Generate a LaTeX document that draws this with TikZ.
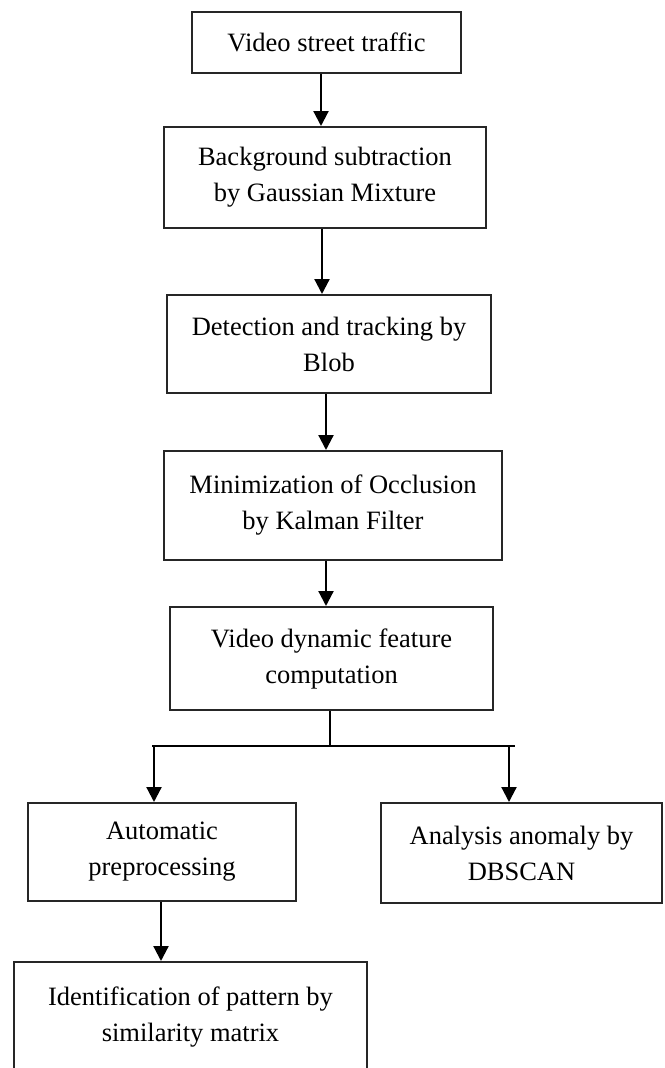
\documentclass[tikz,border=0pt]{standalone}
\usepackage{fontspec}
\setmainfont{Liberation Serif}
\usetikzlibrary{arrows.meta}
\begin{document}
\begin{tikzpicture}[x=1pt,y=-1pt,
  box/.style={draw=black!85, line width=2pt, align=center, inner sep=0pt,
    font=\fontsize{26.5}{36}\selectfont},
  arr/.style={line width=2.2pt, -{Triangle[length=15pt,width=15pt]}},
  ln/.style={line width=2pt}]
\useasboundingbox[fill=white] (0,0) rectangle (664,1068);
\node[box, minimum width=269pt, minimum height=61pt] (b1) at (326.5,42.5) {Video street traffic};
\node[box, minimum width=322pt, minimum height=101pt] (b2) at (325,177.5) {Background subtraction\\by Gaussian Mixture};
\node[box, minimum width=324pt, minimum height=98pt] (b3) at (329,344) {Detection and tracking by\\Blob};
\node[box, minimum width=338pt, minimum height=109pt] (b4) at (333,505.5) {Minimization of Occlusion\\by Kalman Filter};
\node[box, minimum width=323pt, minimum height=103pt] (b5) at (331.5,658.5) {Video dynamic feature\\computation};
\node[box, minimum width=268pt, minimum height=98pt] (b6) at (162,852) {Automatic\\preprocessing};
\node[box, minimum width=281pt, minimum height=100pt] (b7) at (521.5,853) {Analysis anomaly by\\DBSCAN};
\node[box, minimum width=353pt, minimum height=110pt] (b8) at (190.5,1017) {Identification of pattern by\\similarity matrix};
\coordinate (c1) at (321,0);
\coordinate (c2) at (322,0);
\coordinate (c3) at (326,0);
\coordinate (c5) at (330,746);
\coordinate (jl) at (152,746);
\coordinate (jr) at (515,746);
\coordinate (al) at (154,746);
\coordinate (ar) at (509,746);
\coordinate (c6) at (161,0);
\draw[arr] (b1.south -| c1) -- (b2.north -| c1);
\draw[arr] (b2.south -| c2) -- (b3.north -| c2);
\draw[arr] (b3.south -| c3) -- (b4.north -| c3);
\draw[arr] (b4.south -| c3) -- (b5.north -| c3);
\draw[ln] (b5.south -| c5) -- (c5);
\draw[ln] (jl) -- (jr);
\draw[arr] (al) -- (b6.north -| al);
\draw[arr] (ar) -- (b7.north -| ar);
\draw[arr] (b6.south -| c6) -- (b8.north -| c6);
\end{tikzpicture}
\end{document}
